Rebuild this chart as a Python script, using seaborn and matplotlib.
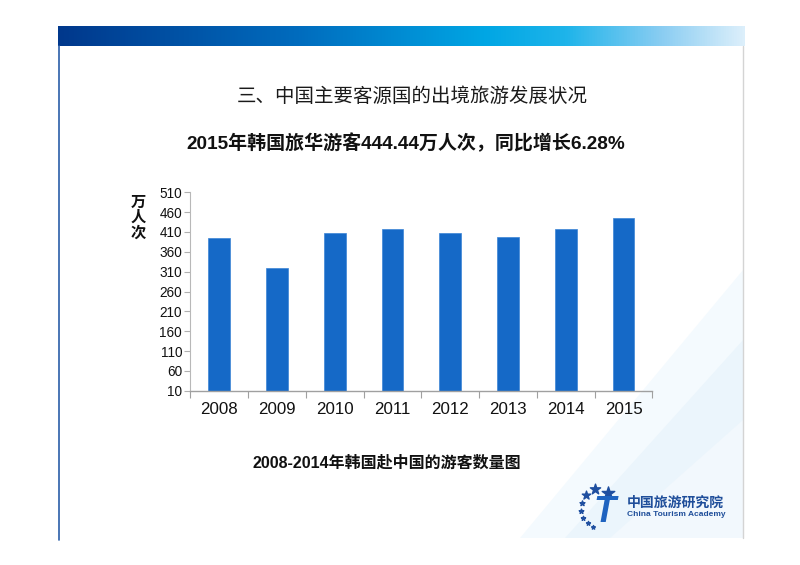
import numpy as np
import pandas as pd
import matplotlib
matplotlib.use("Agg")
import matplotlib.pyplot as plt
from matplotlib.colors import LinearSegmentedColormap
from matplotlib.patches import Polygon
import seaborn as sns

years = ["2008", "2009", "2010", "2011", "2012", "2013", "2014", "2015"]
visitors = [396.04, 319.75, 407.64, 418.54, 406.99, 396.90, 418.17, 444.44]
yticks = list(range(10, 511, 50))

title1 = "三、中国主要客源国的出境旅游发展状况"
title2 = "2015年韩国旅华游客444.44万人次，同比增长6.28%"
caption = "2008-2014年韩国赴中国的游客数量图"
ylab = "万\n人\n次"

sns.set_theme(style="white")
plt.rcParams['font.family'] = ['Liberation Sans', 'Noto Sans CJK SC', 'DejaVu Sans']

W, H = 800, 565
fig = plt.figure(figsize=(8, 5.65), dpi=100)
fig.patch.set_facecolor("white")

# background / decoration axes in pixel coordinates
bg = fig.add_axes([0, 0, 1, 1], zorder=0)
bg.set_xlim(0, W)
bg.set_ylim(H, 0)
bg.axis("off")

# faint swooshes at bottom right
bg.add_patch(Polygon([(520, 538), (743, 538), (743, 270)], closed=True,
                     facecolor="#F4FAFE", edgecolor="none"))
bg.add_patch(Polygon([(565, 538), (743, 538), (743, 340)], closed=True,
                     facecolor="#EBF5FC", edgecolor="none"))
bg.add_patch(Polygon([(610, 538), (743, 538), (743, 420)], closed=True,
                     facecolor="#F2F8FD", edgecolor="none"))

# top gradient bar
cmap = LinearSegmentedColormap.from_list("bar", [
    (0.0, "#00388C"), (0.35, "#006CBE"), (0.62, "#00A6E4"),
    (0.74, "#1EB4EA"), (0.88, "#8ACDF2"), (1.0, "#DCEFFB")])
grad = np.linspace(0, 1, 512).reshape(1, -1)
bg.imshow(grad, cmap=cmap, aspect="auto", extent=(58, 745, 46.5, 27), zorder=1)

# frame lines
bg.plot([58.5, 58.5], [46, 540], color="#2A5DA8", lw=1.2, zorder=2)
bg.plot([742.5, 742.5], [46, 538], color="#D4D4D4", lw=1.0, zorder=2)

# titles
bg.text(412, 97, title1, ha="center", va="center", fontsize=14,
        color="#1A1A1A", family=['Noto Sans CJK SC', 'DejaVu Sans'])
bg.text(406, 143, title2, ha="center", va="center", fontsize=13.7,
        fontweight="bold", color="#111111")
bg.text(387, 463, caption, ha="center", va="center", fontsize=11.5,
        fontweight="bold", color="#111111")
bg.text(138, 217, ylab, ha="center", va="center", fontsize=11,
        fontweight="bold", color="#111111", linespacing=0.95,
        family=['Noto Sans CJK SC', 'DejaVu Sans'])

# logo
star_pts = [(608, 493, 90), (595, 489, 60), (586, 495, 40), (582, 503, 14),
            (581, 511, 12), (583, 518, 10), (588, 523, 9), (593, 527, 8)]
for sx, sy, ss in star_pts:
    bg.scatter([sx], [sy], marker="*", s=ss, color="#1F4FA0", zorder=3)
bg.text(605, 513, "T", ha="center", va="center", fontsize=26,
        fontweight="bold", style="italic", color="#1E63C0", zorder=3)
bg.text(627, 503, "中国旅游研究院", ha="left", va="center", fontsize=10,
        fontweight="bold", color="#1F4E9A", zorder=3)
bg.text(627, 515, "China Tourism Academy", ha="left", va="center", fontsize=6,
        fontweight="bold", color="#1F4E9A", zorder=3)

# chart
ax = fig.add_axes([190.4 / W, 1 - 390.7 / H, 462 / W, 198.4 / H], zorder=1)
ax.set_facecolor("none")
df = pd.DataFrame({"year": years, "visitors": visitors})
sns.barplot(data=df, x="year", y="visitors", color="#1569C7", width=0.38,
            saturation=1, ax=ax, edgecolor="#3A84D6", linewidth=0.5)
ax.set_ylim(10, 510)
ax.set_xlim(-0.5, len(years) - 0.5)
ax.set_yticks(yticks)
ax.set_yticklabels([str(v) for v in yticks], fontsize=9.8, color="#111111")
ax.set_xticks(range(len(years)))
ax.set_xticklabels(years, fontsize=12.2, color="#111111")
ax.set_xticks(np.arange(-0.5, len(years)), minor=True)
ax.tick_params(axis="x", which="major", length=0, pad=8)
ax.tick_params(axis="x", which="minor", length=5, width=0.8, color="#A0A0A0",
               direction="out", bottom=True)
ax.tick_params(axis="y", which="major", length=4, width=0.8, color="#B0B0B0",
               direction="out", left=True, pad=2)
ax.set_xlabel("")
ax.set_ylabel("")
for s in ["top", "right"]:
    ax.spines[s].set_visible(False)
ax.spines["left"].set_color("#B8B8B8")
ax.spines["left"].set_linewidth(0.8)
ax.spines["bottom"].set_color("#A0A0A0")
ax.spines["bottom"].set_linewidth(1.0)
ax.grid(False)

fig.savefig("out.png", dpi=100, facecolor="white")
